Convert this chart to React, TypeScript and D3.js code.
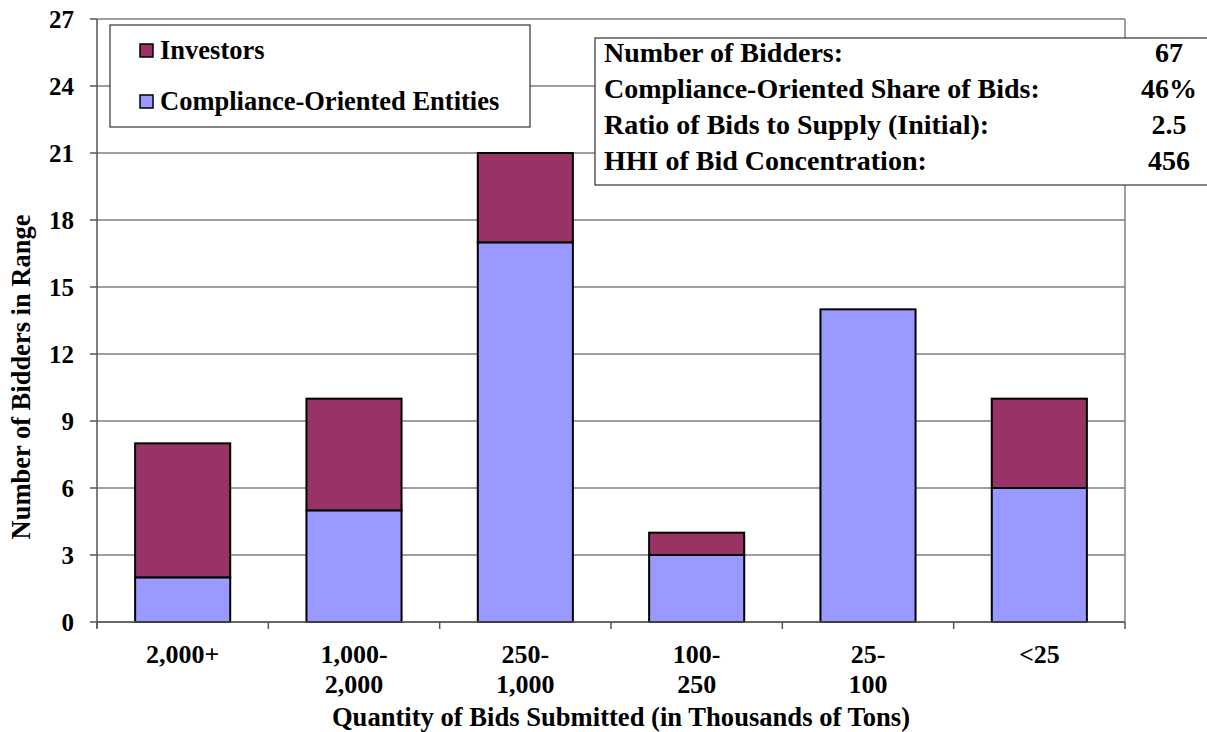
import React from "react";
import * as d3 from "d3";

const categories = [["2,000+"], ["1,000-", "2,000"], ["250-", "1,000"], ["100-", "250"], ["25-", "100"], ["<25"]];
const compliance = [2, 5, 17, 3, 14, 6];
const investors = [6, 5, 4, 1, 0, 4];
const yTicks = [0, 3, 6, 9, 12, 15, 18, 21, 24, 27];
const statLabels = ["Number of Bidders:", "Compliance-Oriented Share of Bids:", "Ratio of Bids to Supply (Initial):", "HHI of Bid Concentration:"];
const statValues = ["67", "46%", "2.5", "456"];

const W = 1207, H = 732;
const M = { left: 97, right: 1125, top: 19, bottom: 622 };
const FONT = "'Liberation Serif', 'Times New Roman', serif";
const C_INV = "#993366";
const C_COMP = "#9999FF";

export default function App() {
  const idx = categories.map((_, i) => i);
  const x = d3.scaleBand<number>().domain(idx).range([M.left, M.right]).paddingInner(0.445).paddingOuter(0.2225);
  const y = d3.scaleLinear().domain([0, 27]).range([M.bottom, M.top]);
  const bounds = d3.range(categories.length + 1).map((i) => M.left + (i * (M.right - M.left)) / categories.length);

  return (
    <svg width={W} height={H} style={{ position: "absolute", left: 0, top: 0, background: "#fff" }} fontFamily={FONT} fontWeight="bold">
      {/* gridlines */}
      {yTicks.map((t) => (
        <line key={t} x1={M.left} x2={M.right} y1={y(t)} y2={y(t)} stroke="#7f7f7f" strokeWidth={1.5} />
      ))}
      <line x1={M.right} x2={M.right} y1={M.top} y2={M.bottom} stroke="#7f7f7f" strokeWidth={1.5} />
      {/* y axis */}
      <line x1={M.left} x2={M.left} y1={M.top} y2={M.bottom + 6} stroke="#555" strokeWidth={1.5} />
      {yTicks.map((t) => (
        <g key={"yt" + t}>
          <line x1={M.left - 7} x2={M.left} y1={y(t)} y2={y(t)} stroke="#555" strokeWidth={1.5} />
          <text x={74} y={y(t)} dy="0.35em" textAnchor="end" fontSize={25}>{t}</text>
        </g>
      ))}
      {/* x axis ticks */}
      {bounds.map((b, i) => (
        <line key={"xt" + i} x1={b} x2={b} y1={M.bottom} y2={M.bottom + 7} stroke="#555" strokeWidth={1.5} />
      ))}
      {/* bars */}
      {idx.map((i) => {
        const x0 = x(i)!;
        const bw = x.bandwidth();
        return (
          <g key={"b" + i}>
            <rect x={x0} width={bw} y={y(compliance[i])} height={y(0) - y(compliance[i])} fill={C_COMP} stroke="#000" strokeWidth={2} />
            {investors[i] > 0 && (
              <rect x={x0} width={bw} y={y(compliance[i] + investors[i])} height={y(compliance[i]) - y(compliance[i] + investors[i])} fill={C_INV} stroke="#000" strokeWidth={2} />
            )}
          </g>
        );
      })}
      <line x1={M.left} x2={M.right} y1={M.bottom} y2={M.bottom} stroke="#555" strokeWidth={1.5} />
      {/* x labels */}
      {categories.map((lines, i) => (
        <text key={"xl" + i} x={x(i)! + x.bandwidth() / 2} y={663} textAnchor="middle" fontSize={26}>
          {lines.map((l, j) => (
            <tspan key={j} x={x(i)! + x.bandwidth() / 2} dy={j === 0 ? 0 : 30}>{l}</tspan>
          ))}
        </text>
      ))}
      <text x={621} y={726} textAnchor="middle" fontSize={26.6}>Quantity of Bids Submitted (in Thousands of Tons)</text>
      <text transform={`translate(30,377) rotate(-90)`} textAnchor="middle" fontSize={26.5}>Number of Bidders in Range</text>
      {/* legend */}
      <rect x={110} y={25} width={420} height={102} fill="#fff" stroke="#333" strokeWidth={1.2} />
      <rect x={140} y={44} width={13} height={13} fill={C_INV} stroke="#000" strokeWidth={1.5} />
      <text x={160} y={59} fontSize={26.5}>Investors</text>
      <rect x={140} y={95} width={13} height={13} fill={C_COMP} stroke="#000" strokeWidth={1.5} />
      <text x={160} y={110} fontSize={26.5}>Compliance-Oriented Entities</text>
      {/* stats box */}
      <rect x={595} y={38} width={620} height={147} fill="#fff" stroke="#333" strokeWidth={1.2} />
      {statLabels.map((s, i) => (
        <g key={"s" + i}>
          <text x={604} y={62 + i * 36} fontSize={28}>{s}</text>
          <text x={1169} y={62 + i * 36} textAnchor="middle" fontSize={28}>{statValues[i]}</text>
        </g>
      ))}
    </svg>
  );
}
